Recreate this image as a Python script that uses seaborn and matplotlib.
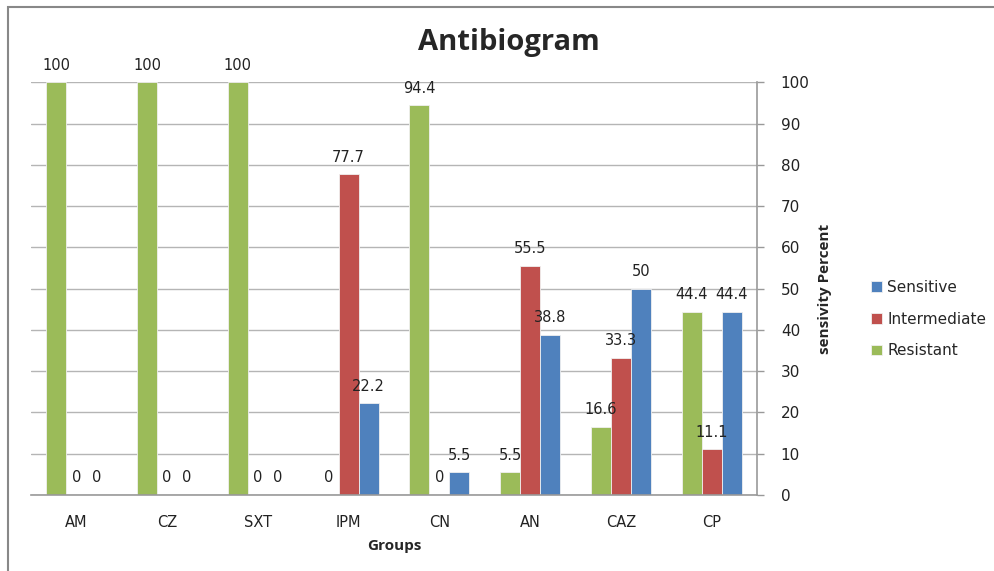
import matplotlib
matplotlib.use("Agg")
import matplotlib.pyplot as plt
import seaborn as sns
import pandas as pd
from matplotlib.patches import Rectangle

groups = ["AM", "CZ", "SXT", "IPM", "CN", "AN", "CAZ", "CP"]
resistant = [100, 100, 100, 0, 94.4, 5.5, 16.6, 44.4]
intermediate = [0, 0, 0, 77.7, 0, 55.5, 33.3, 11.1]
sensitive = [0, 0, 0, 22.2, 5.5, 38.8, 50, 44.4]
series_names = ["Resistant", "Intermediate", "Sensitive"]
colors = {"Resistant": "#9BBB59", "Intermediate": "#C0504D", "Sensitive": "#4F81BD"}

rows = []
for name, vals in zip(series_names, [resistant, intermediate, sensitive]):
    for g, v in zip(groups, vals):
        rows.append({"Groups": g, "Value": v, "Series": name})
df = pd.DataFrame(rows)

sns.set_style("white")
plt.rcParams["font.family"] = ["DejaVu Sans"]

fig = plt.figure(figsize=(9.95, 5.71), dpi=100)
ax = fig.add_axes([0.031, 0.133, 0.730, 0.723])

sns.barplot(data=df, x="Groups", y="Value", hue="Series", order=groups,
            hue_order=series_names, palette=colors, width=0.66, gap=0,
            ax=ax, saturation=1, legend=True, errorbar=None,
            edgecolor="#f0f0f0", linewidth=0.6)

for cont, name in zip(ax.containers, series_names):
    vals = {"Resistant": resistant, "Intermediate": intermediate, "Sensitive": sensitive}[name]
    ax.bar_label(cont, labels=[f"{v:g}" for v in vals], padding=7, fontsize=10.5, color="#222222")

ax.set_ylim(0, 100)
ax.set_xlim(-0.5, len(groups) - 0.5)
ax.yaxis.tick_right()
ax.yaxis.set_label_position("right")
ax.set_yticks(range(0, 101, 10))
ax.tick_params(axis="y", which="both", right=True, length=5, width=1, color="#999999",
               labelsize=11, pad=12, labelcolor="#222222")
ax.tick_params(axis="x", length=0, labelsize=10.5, pad=14, labelcolor="#222222")
ax.grid(axis="y", color="#b5b5b5", linewidth=1)
ax.set_axisbelow(True)
for s in ["left", "top"]:
    ax.spines[s].set_visible(False)
for s in ["right", "bottom"]:
    ax.spines[s].set_color("#999999")
    ax.spines[s].set_linewidth(1.2)

ax.set_xlabel("Groups", fontsize=11, fontweight="bold", family="Open Sans", labelpad=7)
ax.set_ylabel("sensivity Percent", fontsize=11, fontweight="bold", family="Open Sans", labelpad=6)

fig.text(0.511, 0.925, "Antibiogram", ha="center", va="center", fontsize=21,
         fontweight="bold", family="Open Sans")

handles, labels = ax.get_legend_handles_labels()
order = ["Sensitive", "Intermediate", "Resistant"]
hmap = dict(zip(labels, handles))
ax.legend([hmap[o] for o in order], order, loc="center left",
          bbox_to_anchor=(0.862, 0.441), bbox_transform=fig.transFigure,
          frameon=False, fontsize=11, handlelength=0.7, handleheight=0.7,
          handletextpad=0.35, labelspacing=1.1)

fig.patches.append(Rectangle((0.008, -0.01), 1.0, 0.998, transform=fig.transFigure,
                             fill=False, edgecolor="#888888", linewidth=1.5))

fig.savefig("out.png", dpi=100)
